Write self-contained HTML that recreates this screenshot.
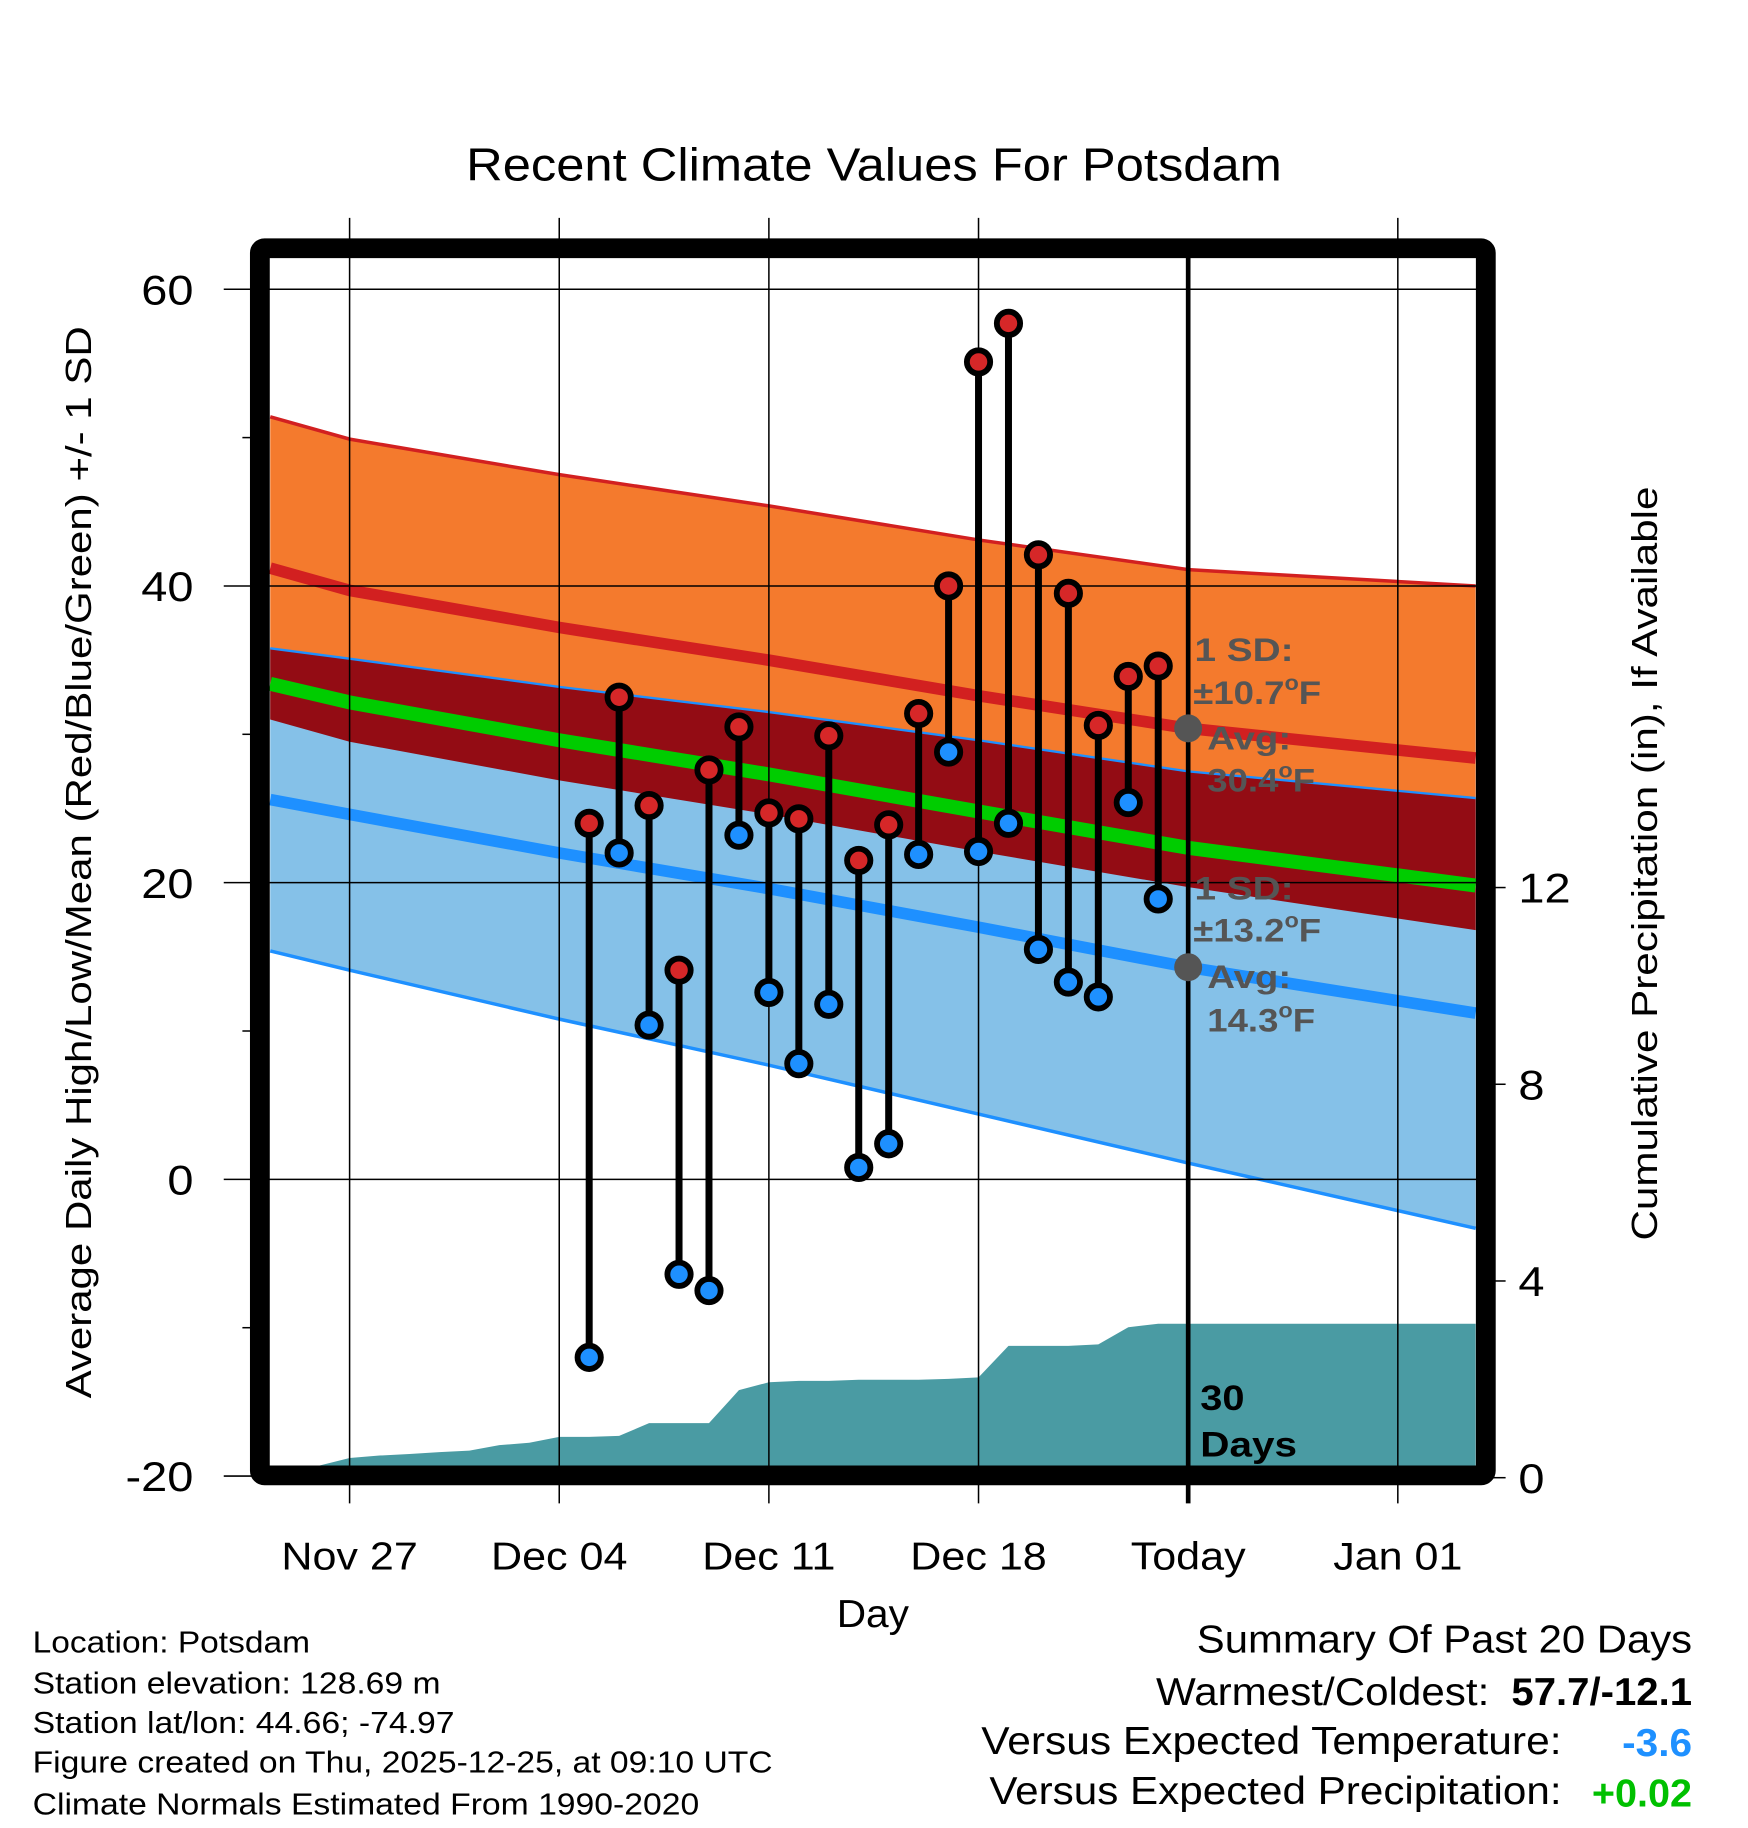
<!DOCTYPE html>
<html><head><meta charset="utf-8"><style>
html,body{margin:0;padding:0;background:#fff;}
svg{display:block;font-family:"Liberation Sans",Arial,sans-serif;}
</style></head><body>
<svg id="chart" width="1748" height="1828" viewBox="0 0 1500 1568.6" preserveAspectRatio="none" xmlns="http://www.w3.org/2000/svg">
<g id="bands"></g>
<g id="precip"></g>
<g id="grid"></g>
<g id="marks"></g>
<g id="axes"></g>
<text x="750" y="155" font-size="40" text-anchor="middle" textLength="700" lengthAdjust="spacingAndGlyphs">Recent Climate Values For Potsdam</text>
<text transform="translate(78,740) rotate(-90)" font-size="31" text-anchor="middle" textLength="920" lengthAdjust="spacingAndGlyphs">Average Daily High/Low/Mean (Red/Blue/Green) +/- 1 SD</text>
<text transform="translate(1422,741) rotate(-90)" font-size="31" text-anchor="middle" textLength="647" lengthAdjust="spacingAndGlyphs">Cumulative Precipitation (in), If Available</text>
<text x="749" y="1396" font-size="33" text-anchor="middle" textLength="62" lengthAdjust="spacingAndGlyphs">Day</text>
<g font-size="28" font-weight="bold" fill="#555">
<text x="1025" y="567" textLength="85" lengthAdjust="spacingAndGlyphs">1 SD:</text>
<text x="1024" y="604" class="sc">±10.7<tspan font-size="18" dy="-12">o</tspan><tspan dy="12">F</tspan></text>
<text x="1036" y="643" textLength="72" lengthAdjust="spacingAndGlyphs">Avg:</text>
<text x="1036" y="679" class="sc">30.4<tspan font-size="18" dy="-12">o</tspan><tspan dy="12">F</tspan></text>
</g>
<g font-size="28" font-weight="bold" fill="#555">
<text x="1025" y="772" textLength="85" lengthAdjust="spacingAndGlyphs">1 SD:</text>
<text x="1024" y="808" class="sc">±13.2<tspan font-size="18" dy="-12">o</tspan><tspan dy="12">F</tspan></text>
<text x="1036" y="848" textLength="72" lengthAdjust="spacingAndGlyphs">Avg:</text>
<text x="1036" y="885" class="sc">14.3<tspan font-size="18" dy="-12">o</tspan><tspan dy="12">F</tspan></text>
</g>
<g font-size="30" font-weight="bold">
<text x="1030" y="1210" textLength="38" lengthAdjust="spacingAndGlyphs">30</text><text x="1030" y="1250" textLength="83" lengthAdjust="spacingAndGlyphs">Days</text>
</g>
<g font-size="26">
<text x="28" y="1418" textLength="238" lengthAdjust="spacingAndGlyphs">Location: Potsdam</text>
<text x="28" y="1453" textLength="350" lengthAdjust="spacingAndGlyphs">Station elevation: 128.69 m</text>
<text x="28" y="1487" textLength="362" lengthAdjust="spacingAndGlyphs">Station lat/lon: 44.66; -74.97</text>
<text x="28" y="1521" textLength="635" lengthAdjust="spacingAndGlyphs">Figure created on Thu, 2025-12-25, at 09:10 UTC</text>
<text x="28" y="1557" textLength="572" lengthAdjust="spacingAndGlyphs">Climate Normals Estimated From 1990-2020</text>
</g>
<g font-size="33" text-anchor="end">
<text x="1452" y="1418" textLength="425" lengthAdjust="spacingAndGlyphs">Summary Of Past 20 Days</text>
<text x="1278" y="1463" textLength="286" lengthAdjust="spacingAndGlyphs">Warmest/Coldest:</text>
<text x="1452" y="1463" font-weight="bold" textLength="155" lengthAdjust="spacingAndGlyphs">57.7/-12.1</text>
<text x="1340" y="1505" textLength="498" lengthAdjust="spacingAndGlyphs">Versus Expected Temperature:</text>
<text x="1452" y="1507" font-weight="bold" fill="#1e90ff" textLength="60" lengthAdjust="spacingAndGlyphs">-3.6</text>
<text x="1340" y="1548" textLength="491" lengthAdjust="spacingAndGlyphs">Versus Expected Precipitation:</text>
<text x="1452" y="1550" font-weight="bold" fill="#00c000" textLength="86" lengthAdjust="spacingAndGlyphs">+0.02</text>
</g>
</svg>
<script>
// normals at day offsets (0 = Nov 27)
const normDays = [-2.65, 0, 7, 14, 21, 28, 37.6];
const highMean = [41.2, 39.7, 37.2, 35.0, 32.6, 30.4, 28.4];
const highSD   = [10.2, 10.2, 10.3, 10.4, 10.5, 10.7, 11.6];
const lowMean  = [25.6, 24.6, 22.0, 19.6, 17.0, 14.3, 11.2];
const lowSD    = [10.2, 10.5, 11.2, 11.9, 12.6, 13.2, 14.5];
// observed Dec 05 - Dec 24
const obsDays = [8,9,10,11,12,13,14,15,16,17,18,19,20,21,22,23,24,25,26,27];
const highs = [24.0,32.5,25.2,14.1,27.6,30.5,24.7,24.3,29.9,21.5,23.9,31.4,40.0,55.1,57.7,42.1,39.5,30.6,33.9,34.6];
const lows  = [-12.0,22.0,10.4,-6.4,-7.5,23.2,12.6,7.8,11.8,0.8,2.4,21.9,28.8,22.1,24.0,15.5,13.3,12.3,25.4,18.9];
// cumulative precipitation
const precipDays = [-2,-1,0,1,2,3,4,5,6,7,8,9,10,11,12,13,14,15,16,17,18,19,20,21,22,23,24,25,26,27,37.6];
const precipVals = [0,0.25,0.4,0.45,0.48,0.52,0.55,0.66,0.71,0.83,0.83,0.85,1.11,1.11,1.11,1.78,1.94,1.97,1.97,1.99,1.99,1.99,2.01,2.04,2.68,2.68,2.68,2.71,3.06,3.13,3.13];
const yTicks = [60,40,20,0,-20];
const yMinor = [50,30,10,-10];
const pTicks = [0,4,8,12];
const xTickDays = [0,7,14,21,28,35];
const xTickLabels = ["Nov 27","Dec 04","Dec 11","Dec 18","Today","Jan 01"];

const X = d => 300 + 25.7*d;
const Y = v => 1012 - 12.73*v;
const P = v => 1268 - 42.2*v;
const NS = "http://www.w3.org/2000/svg";
function mk(parent, tag, attrs){const e=document.createElementNS(NS,tag);for(const k in attrs)e.setAttribute(k,attrs[k]);parent.appendChild(e);return e;}
const pts = (ds, vs) => ds.map((d,i)=>X(d).toFixed(1)+","+Y(vs[i]).toFixed(1));
const hiU = highMean.map((m,i)=>m+highSD[i]), hiL = highMean.map((m,i)=>m-highSD[i]);
const loU = lowMean.map((m,i)=>m+lowSD[i]), loL = lowMean.map((m,i)=>m-lowSD[i]);
const mean = highMean.map((m,i)=>(m+lowMean[i])/2);
const rev = a => a.slice().reverse();

const bands = document.getElementById('bands');
let e;
e = mk(bands,'polygon',{points: pts(normDays,hiU).concat(rev(pts(normDays,hiL))).join(' '), fill:'#f47a2d'});
 
e = mk(bands,'polygon',{points: pts(normDays,loU).concat(rev(pts(normDays,loL))).join(' '), fill:'#85c1e8'});
 
e = mk(bands,'polygon',{points: pts(normDays,loU).concat(rev(pts(normDays,hiL))).join(' '), fill:'#930c14'});
 
e = mk(bands,'polyline',{points: pts(normDays,hiU).join(' '), fill:'none', stroke:'#d22020','stroke-width':3});
 
e = mk(bands,'polyline',{points: pts(normDays,loU).join(' '), fill:'none', stroke:'#1e90ff','stroke-width':2});
 
e = mk(bands,'polyline',{points: pts(normDays,loL).join(' '), fill:'none', stroke:'#1e90ff','stroke-width':3});
 
e = mk(bands,'polyline',{points: pts(normDays,highMean).join(' '), fill:'none', stroke:'#d22020','stroke-width':10});
 
e = mk(bands,'polyline',{points: pts(normDays,mean).join(' '), fill:'none', stroke:'#00cc00','stroke-width':12});
 
e = mk(bands,'polyline',{points: pts(normDays,lowMean).join(' '), fill:'none', stroke:'#1e90ff','stroke-width':10});
 

const pr = document.getElementById('precip');
const pp = precipDays.map((d,i)=>X(d).toFixed(1)+","+P(precipVals[i]).toFixed(1));
pp.unshift(X(precipDays[0])+","+P(0)); pp.unshift(X(-2.65)+","+P(0));
pp.push(X(37.6)+","+P(0));
e = mk(pr,'polygon',{points: pp.join(' '), fill:'#4a9ba3'});
 

const grid = document.getElementById('grid');
xTickDays.forEach((d,i)=>{
  if(d===28) return;
  e = mk(grid,'line',{x1:X(d),x2:X(d),y1:187,y2:1290,stroke:'#000','stroke-width':1.3});
   
});
yTicks.forEach(v=>{
  e = mk(grid,'line',{x1:192,x2:1270,y1:Y(v),y2:Y(v),stroke:'#000','stroke-width':1.3});
   
});
e = mk(grid,'line',{x1:X(28),x2:X(28),y1:210,y2:1290,stroke:'#000','stroke-width':4});
 
e = mk(grid,'circle',{cx:X(28),cy:Y(highMean[5]),r:12,fill:'#555'});
 
e = mk(grid,'circle',{cx:X(28),cy:Y(lowMean[5]),r:12,fill:'#555'});
 

const marks = document.getElementById('marks');
obsDays.forEach((d,i)=>{
  e = mk(marks,'line',{x1:X(d),x2:X(d),y1:Y(highs[i]),y2:Y(lows[i]),stroke:'#000','stroke-width':6});
   
  e = mk(marks,'circle',{cx:X(d),cy:Y(highs[i]),r:10,fill:'#d62728',stroke:'#000','stroke-width':5});
   
  e = mk(marks,'circle',{cx:X(d),cy:Y(lows[i]),r:10,fill:'#1e90ff',stroke:'#000','stroke-width':5});
   
});

const axes = document.getElementById('axes');
e = mk(axes,'rect',{x:223,y:213,width:1052,height:1053,fill:'none',stroke:'#000','stroke-width':17,rx:4});
 
yTicks.forEach(v=>{
  e = mk(axes,'text',{x:166,y:Y(v)+13,'font-size':36,'text-anchor':'end',class:'sc'});
  e.textContent = String(v);
   
});
yMinor.forEach(v=>{
  e = mk(axes,'line',{x1:208,x2:216,y1:Y(v),y2:Y(v),stroke:'#000','stroke-width':1.3});
   
});
pTicks.forEach(v=>{
  e = mk(axes,'line',{x1:1280,x2:1292,y1:P(v),y2:P(v),stroke:'#000','stroke-width':1.3});
   
  e = mk(axes,'text',{x:1303,y:P(v)+13,'font-size':36,class:'sc'});
  e.textContent = String(v);
   
});
xTickDays.forEach((d,i)=>{
  e = mk(axes,'text',{x:X(d),y:1347,'font-size':33,'text-anchor':'middle',class:'sc'});
  e.textContent = xTickLabels[i];
   
});
// widen Liberation glyphs toward the reference (Helvetica-like) widths
document.querySelectorAll('text.sc').forEach(t=>{
  const w = t.getComputedTextLength();
  t.setAttribute('textLength', (w*1.12).toFixed(1));
  t.setAttribute('lengthAdjust','spacingAndGlyphs');
});
</script>
</body></html>
